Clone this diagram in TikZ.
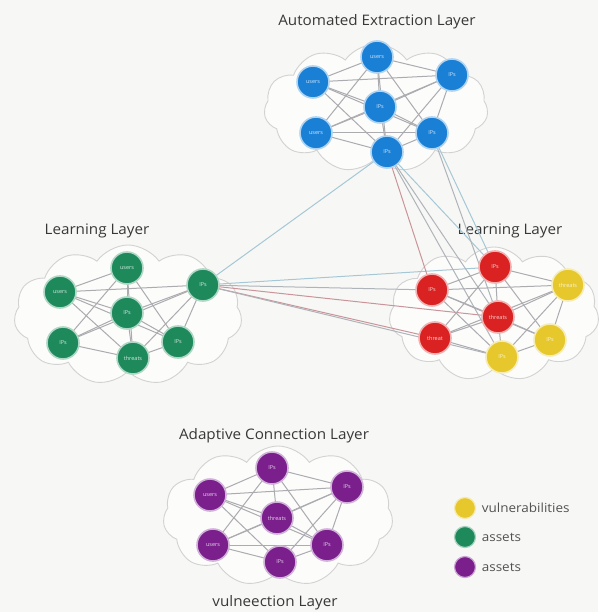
\documentclass[tikz,border=0pt]{standalone}
\usepackage{fontspec}
\setmainfont{Open Sans}
\usetikzlibrary{shapes.symbols}
\definecolor{bgc}{HTML}{F7F7F5}
\definecolor{cloudline}{HTML}{D2D2D2}
\definecolor{edgec}{HTML}{ABABB0}
\definecolor{bluen}{HTML}{1A80D6}
\definecolor{greenn}{HTML}{1E8A5C}
\definecolor{redn}{HTML}{DA2222}
\definecolor{yellown}{HTML}{E6C82C}
\definecolor{purplen}{HTML}{7A1F8C}
\definecolor{linkblue}{HTML}{A6C8D6}
\definecolor{linkred}{HTML}{C9959A}
\definecolor{linkgrey}{HTML}{AFB4BA}
\tikzset{
  cloudbox/.style={cloud, cloud puffs=11, cloud puff arc=110, aspect=1.6,
    draw=cloudline, line width=0.9pt, fill=white!60!bgc, inner sep=0pt},
  netnode/.style={circle, minimum size=32pt, inner sep=0pt, line width=1.6pt,
    font=\fontsize{5.5}{5.5}\selectfont, text=white!80!#1, fill=#1, draw=#1!35!white},
  layertitle/.style={font=\fontsize{14.5}{16}\selectfont, text=black!78, xscale=1.05},
  link/.style={draw=edgec, line width=1pt},
  legdot/.style={circle, minimum size=21pt, inner sep=0pt, fill=#1, draw=#1!40!white, line width=1.2pt},
  legtext/.style={anchor=west, font=\fontsize{12.5}{14}\selectfont, text=black!68, xscale=1.08}
}
\begin{document}
\begin{tikzpicture}[x=1pt,y=-1pt]
\useasboundingbox[fill=bgc] (0,0) rectangle (598,612);

% clouds
\node[cloudbox, minimum width=224pt, minimum height=128pt] (cloudTop) at (376,108) {};
\node[cloudbox, minimum width=228pt, minimum height=140pt] (cloudLeft) at (128,315) {};
\node[cloudbox, minimum width=210pt, minimum height=134pt] (cloudRight) at (494,314) {};
\node[cloudbox, minimum width=230pt, minimum height=140pt] (cloudBottom) at (278,516) {};

% titles
\node[layertitle] (tTop) at (377,22) {Automated Extraction Layer};
\node[layertitle] (tLeft) at (97,231) {Learning Layer};
\node[layertitle] (tRight) at (510,231) {Learning Layer};
\node[layertitle] (tBottom) at (274,436) {Adaptive Connection Layer};
\node[layertitle] (tFoot) at (275,603) {vulneection Layer};

% node positions
\coordinate (A1) at (377,57);  \coordinate (A2) at (313,82);
\coordinate (A3) at (452,75);  \coordinate (A4) at (380,107);
\coordinate (A5) at (316,133); \coordinate (A6) at (432,133);
\coordinate (A7) at (387,152);

\coordinate (B1) at (127,268); \coordinate (B2) at (60,292);
\coordinate (B3) at (203,285); \coordinate (B4) at (127,313);
\coordinate (B5) at (63,343);  \coordinate (B6) at (133,358);
\coordinate (B7) at (178,342);

\coordinate (C1) at (495,267); \coordinate (C2) at (432,290);
\coordinate (C3) at (498,317); \coordinate (C4) at (435,338);
\coordinate (C5) at (568,285); \coordinate (C6) at (550,340);
\coordinate (C7) at (502,357);

\coordinate (D1) at (272,468); \coordinate (D2) at (210,495);
\coordinate (D3) at (347,487); \coordinate (D4) at (277,518);
\coordinate (D5) at (213,545); \coordinate (D6) at (327,545);
\coordinate (D7) at (280,562);

% links between layers
\draw[draw=linkblue, line width=1pt] (B3) -- (A7);
\draw[draw=linkblue, line width=1pt] (B3) -- (C1);
\draw[draw=linkgrey, line width=1pt] (B3) -- (C2);
\draw[draw=linkred, line width=1pt] (B3) -- (C3);
\draw[draw=linkred, line width=1pt] (B3) -- (C4);
\draw[draw=linkgrey, line width=1pt] (B3) -- (C7);
\draw[draw=linkred, line width=1pt] (A7) -- (C2);
\draw[draw=linkgrey, line width=1pt] (A7) -- (C3);
\draw[draw=linkblue, line width=1pt] (A7) -- (C1);
\draw[draw=linkgrey, line width=1pt] (A7) -- (C7);
\draw[draw=linkblue, line width=1pt] (A6) -- (C1);
\draw[draw=linkgrey, line width=1pt] (A6) -- (C3);

% links inside layers
\foreach \u/\v in {1/2,1/3,1/4,1/5,1/6,1/7,2/3,2/4,2/6,2/7,3/4,3/5,3/6,3/7,4/5,4/6,4/7,5/6,5/7,6/7}
  \draw[link] (A\u) -- (A\v);
\foreach \u/\v in {1/2,1/4,1/5,1/6,1/7,2/3,2/4,2/6,3/4,3/5,3/6,3/7,4/5,4/6,4/7,5/6,6/7,2/7}
  \draw[link] (B\u) -- (B\v);
\foreach \u/\v in {1/2,1/3,1/4,1/5,1/6,2/3,2/7,2/5,3/4,3/5,3/6,3/7,4/7,4/5,5/6,5/7,6/7,2/6}
  \draw[link] (C\u) -- (C\v);
\foreach \u/\v in {1/2,1/3,1/4,1/5,1/6,2/3,2/4,2/7,2/6,3/4,3/5,3/6,3/7,4/5,4/6,5/7,6/7,5/6}
  \draw[link] (D\u) -- (D\v);

% nodes
\node[netnode=bluen] (a1) at (A1) {users};
\node[netnode=bluen] (a2) at (A2) {users};
\node[netnode=bluen] (a3) at (A3) {IPs};
\node[netnode=bluen] (a4) at (A4) {IPs};
\node[netnode=bluen] (a5) at (A5) {users};
\node[netnode=bluen] (a6) at (A6) {IPs};
\node[netnode=bluen] (a7) at (A7) {IPs};

\node[netnode=greenn] (b1) at (B1) {users};
\node[netnode=greenn] (b2) at (B2) {users};
\node[netnode=greenn] (b3) at (B3) {IPs};
\node[netnode=greenn] (b4) at (B4) {IPs};
\node[netnode=greenn] (b5) at (B5) {IPs};
\node[netnode=greenn] (b6) at (B6) {threats};
\node[netnode=greenn] (b7) at (B7) {IPs};

\node[netnode=redn] (c1) at (C1) {IPs};
\node[netnode=redn] (c2) at (C2) {IPs};
\node[netnode=redn] (c3) at (C3) {threats};
\node[netnode=redn] (c4) at (C4) {threat};
\node[netnode=yellown] (c5) at (C5) {threats};
\node[netnode=yellown] (c6) at (C6) {IPs};
\node[netnode=yellown] (c7) at (C7) {IPs};

\node[netnode=purplen] (d1) at (D1) {IPs};
\node[netnode=purplen] (d2) at (D2) {users};
\node[netnode=purplen] (d3) at (D3) {IPs};
\node[netnode=purplen] (d4) at (D4) {threats};
\node[netnode=purplen] (d5) at (D5) {users};
\node[netnode=purplen] (d6) at (D6) {IPs};
\node[netnode=purplen] (d7) at (D7) {IPs};

% legend
\node[legdot=yellown] (k1) at (465,508) {};
\node[legdot=greenn] (k2) at (465,537) {};
\node[legdot=purplen] (k3) at (465,567) {};
\node[legtext] (l1) at (478,508) {vulnerabilities};
\node[legtext] (l2) at (478,537) {assets};
\node[legtext] (l3) at (478,567) {assets};
\end{tikzpicture}
\end{document}
